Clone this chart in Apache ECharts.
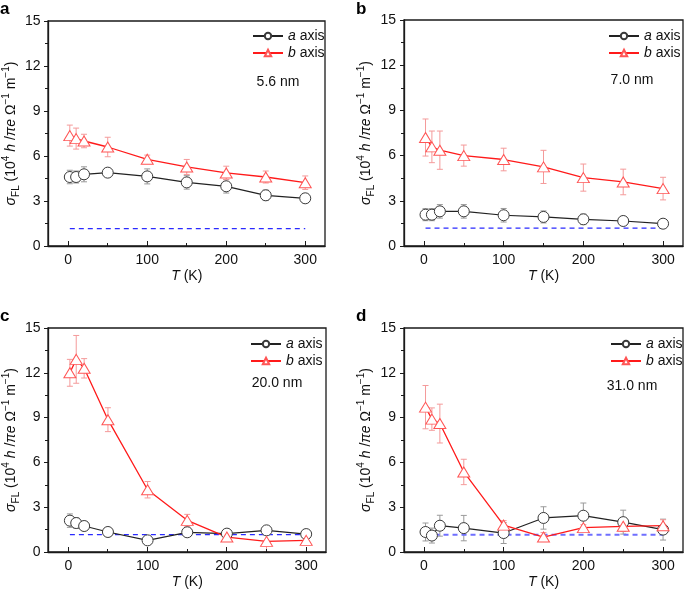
<!DOCTYPE html>
<html><head><meta charset="utf-8">
<script src="https://cdn.jsdelivr.net/npm/echarts@6/dist/echarts.min.js"></script>
<style>html,body{margin:0;padding:0;background:#fff}
#wrap{position:relative;width:685px;height:594px}
.layer{position:absolute;left:0;top:0;width:685px;height:594px}
.ov{pointer-events:none}</style>
</head><body><div id="wrap">
<div id="c" class="layer"></div>
<div id="f0" class="layer ov"></div><div id="f1" class="layer ov"></div>
<div id="f2" class="layer ov"></div><div id="f3" class="layer ov"></div>
</div>
<script>
// ---- data ----
const temps = [2, 10, 20, 50, 100, 150, 200, 250, 300];
const xTickLabels = [0, 100, 200, 300];
const xMinorTicks = [50, 150, 250];
const xRange = [-25, 325];
const yRange = [0, 15];
const panelLetters = ['a', 'b', 'c', 'd'];
const thickLabels = ['5.6 nm', '7.0 nm', '20.0 nm', '31.0 nm'];
const seriesNames = ['a axis', 'b axis'];

const a56 = [4.6, 4.6, 4.78, 4.89, 4.64, 4.24, 3.98, 3.38, 3.18];
const a56err = [0.45, 0.4, 0.5, 0.25, 0.5, 0.45, 0.45, 0.35, 0.3];
const b56 = [7.36, 7.16, 7.0, 6.6, 5.78, 5.27, 4.87, 4.6, 4.22];
const b56err = [0.7, 0.7, 0.45, 0.65, 0.28, 0.5, 0.45, 0.4, 0.45];

const a70 = [2.08, 2.08, 2.3, 2.3, 2.04, 1.93, 1.77, 1.66, 1.48];
const a70err = [0.4, 0.4, 0.45, 0.45, 0.45, 0.4, 0.35, 0.3, 0.2];
const b70 = [7.2, 6.58, 6.36, 6.0, 5.74, 5.25, 4.54, 4.25, 3.81];
const b70err = [1.23, 1.05, 1.27, 0.7, 0.75, 1.1, 0.9, 0.85, 0.75];

const a200 = [2.1, 1.94, 1.74, 1.34, 0.78, 1.32, 1.23, 1.45, 1.2];
const a200err = [0.45, 0.35, 0.3, 0.15, 0.15, 0.2, 0.15, 0.2, 0.15];
const b200 = [12.0, 12.9, 12.3, 8.86, 4.17, 2.12, 1.0, 0.71, 0.78];
const b200err = [0.9, 1.6, 0.65, 0.8, 0.55, 0.4, 0.15, 0.7, 0.2];

const a310 = [1.34, 1.1, 1.76, 1.6, 1.27, 2.28, 2.43, 2.0, 1.5];
const a310err = [0.6, 0.5, 0.7, 0.85, 0.7, 0.75, 0.85, 0.8, 0.7];
const b310 = [9.7, 8.9, 8.6, 5.36, 1.8, 1.0, 1.63, 1.72, 1.76];
const b310err = [1.45, 0.75, 1.3, 0.85, 0.3, 0.3, 0.2, 0.35, 0.4];

const dashedLevel = [1.16, 1.18, 1.16, 1.16];
const dashedRange = [2, 300];

// ---- layout/style ----
const FF = '"Liberation Sans", Arial, Helvetica, sans-serif';
const grids = [
  {left: 48, top: 21, width: 277, height: 225},
  {left: 404, top: 20, width: 279, height: 226},
  {left: 48, top: 328, width: 278, height: 224},
  {left: 404, top: 328, width: 279, height: 224}
];
const legendPos = [[247, 24], [603, 24], [245, 332], [605, 332]];
const thickPos = [[278, 82], [632, 80], [277, 383], [632, 386]];
const letterPos = [[0, 1], [356, 1], [0, 308], [356, 308]];
const dashStyle = [
  {color: '#2a2aff', width: 1.2}, {color: '#2a2aff', width: 1.2},
  {color: '#2a2aff', width: 1.2}, {color: '#6f6fff', width: 2}
];
const panels = [
  [a56, a56err, b56, b56err], [a70, a70err, b70, b70err],
  [a200, a200err, b200, b200err], [a310, a310err, b310, b310err]
];
const axisColor = '#1a1a1a';
const txt = '#111';

function errRender(params, api) {
  const x = api.value(0), lo = api.value(1), hi = api.value(2);
  const p1 = api.coord([x, hi]), p2 = api.coord([x, lo]);
  const w = 3;
  const st = {stroke: api.visual('color'), lineWidth: 1};
  return {type: 'group', children: [
    {type: 'line', shape: {x1: p1[0], y1: p1[1], x2: p2[0], y2: p2[1]}, style: st},
    {type: 'line', shape: {x1: p1[0] - w, y1: p1[1], x2: p1[0] + w, y2: p1[1]}, style: st},
    {type: 'line', shape: {x1: p2[0] - w, y1: p2[1], x2: p2[0] + w, y2: p2[1]}, style: st}
  ]};
}
function errData(v, e) { return temps.map((t, i) => [t, v[i] - e[i], v[i] + e[i]]); }
function ptData(v) { return temps.map((t, i) => [t, v[i]]); }

// ---- main chart: data, labels, names, legends ----
const xAxes = [], yAxes = [], series = [], legends = [], graphics = [];
const richName = {
  i: {fontStyle: 'italic', fontSize: 14, fontFamily: FF, color: txt, lineHeight: 20},
  n: {fontSize: 14, fontFamily: FF, color: txt, lineHeight: 20},
  sub: {fontSize: 10, fontFamily: FF, color: txt, verticalAlign: 'bottom', lineHeight: 10},
  sup: {fontSize: 10, fontFamily: FF, color: txt, verticalAlign: 'top', lineHeight: 10}
};
grids.forEach((g, k) => {
  xAxes.push({
    type: 'value', gridIndex: k, min: xRange[0], max: xRange[1], position: 'bottom',
    axisLine: {show: false, onZero: false}, axisTick: {show: false},
    axisLabel: {customValues: xTickLabels, fontSize: 14, fontFamily: FF, color: txt, margin: 7},
    splitLine: {show: false},
    name: '{i|T} (K)', nameLocation: 'middle', nameGap: 23,
    nameTextStyle: {fontSize: 14, fontFamily: FF, color: txt, rich: {i: {fontStyle: 'italic', fontSize: 14, fontFamily: FF, color: txt}}}
  });
  yAxes.push({
    type: 'value', gridIndex: k, min: yRange[0], max: yRange[1], interval: 3,
    axisLine: {show: false, onZero: false}, axisTick: {show: false},
    axisLabel: {fontSize: 14, fontFamily: FF, color: txt, margin: 8},
    splitLine: {show: false},
    name: '{i|σ}{sub|FL}{n| (10}{sup|4}{n| }{i|h}{n| /}{i|πe}{n| Ω}{sup|−1}{n| m}{sup|−1}{n|)}',
    nameLocation: 'middle', nameRotate: 90, nameGap: 27,
    nameTextStyle: {fontSize: 14, fontFamily: FF, color: txt, rich: richName}
  });
  const [av, ae, bv, be] = panels[k];
  series.push(
    {type: 'custom', name: 'aerr' + k, xAxisIndex: k, yAxisIndex: k, renderItem: errRender,
     itemStyle: {color: '#9a9a9a'}, encode: {x: 0, y: [1, 2]}, data: errData(av, ae), z: 1, silent: true},
    {type: 'custom', name: 'berr' + k, xAxisIndex: k, yAxisIndex: k, renderItem: errRender,
     itemStyle: {color: '#f49a9a'}, encode: {x: 0, y: [1, 2]}, data: errData(bv, be), z: 1, silent: true},
    {type: 'line', name: 'dash' + k, xAxisIndex: k, yAxisIndex: k, symbol: 'none',
     data: [[dashedRange[0], dashedLevel[k]], [dashedRange[1], dashedLevel[k]]],
     lineStyle: {color: dashStyle[k].color, width: dashStyle[k].width, type: [5, 4]}, z: 1, silent: true},
    {type: 'line', name: seriesNames[0], xAxisIndex: k, yAxisIndex: k, symbol: 'circle', symbolSize: 11,
     data: ptData(av), lineStyle: {color: '#222', width: 1.2},
     itemStyle: {color: '#fff', borderColor: '#3a3a3a', borderWidth: 1}, z: 3},
    {type: 'line', name: seriesNames[1], xAxisIndex: k, yAxisIndex: k, symbol: 'triangle', symbolSize: [12, 10],
     data: ptData(bv), lineStyle: {color: '#ff1a1a', width: 1.3},
     itemStyle: {color: '#fff', borderColor: '#ff5555', borderWidth: 1}, z: 3}
  );
  legends.push({
    left: legendPos[k][0], top: legendPos[k][1], orient: 'vertical', align: 'left',
    data: seriesNames, itemWidth: 30, itemHeight: 8, itemGap: 3, selectedMode: false,
    formatter: n => n === 'a axis' ? '{i|a} axis' : '{i|b} axis',
    textStyle: {fontSize: 14, fontFamily: FF, color: txt, padding: [0, 0, 0, 0],
      rich: {i: {fontStyle: 'italic', fontSize: 14, fontFamily: FF, color: txt}}}
  });
  graphics.push(
    {type: 'text', x: thickPos[k][0], y: thickPos[k][1],
     style: {text: thickLabels[k], fontSize: 14, fontFamily: FF, fill: txt, align: 'center', verticalAlign: 'middle'}},
    {type: 'text', x: letterPos[k][0], y: letterPos[k][1],
     style: {text: panelLetters[k], fontSize: 17, fontWeight: 'bold', fontFamily: FF, fill: '#000', align: 'left', verticalAlign: 'top'}}
  );
});

const chart = echarts.init(document.getElementById('c'), null, {renderer: 'canvas'});
chart.setOption({
  animation: false,
  backgroundColor: '#fff',
  grid: grids.map(g => Object.assign({}, g)),
  xAxis: xAxes, yAxis: yAxes, series: series, legend: legends, graphic: graphics
});

// ---- frame layers: one simple single-grid chart per panel (axis lines, ticks, box) ----
grids.forEach((g, k) => {
  const fc = echarts.init(document.getElementById('f' + k), null, {renderer: 'canvas'});
  fc.setOption({
    animation: false,
    grid: [Object.assign({show: true, borderColor: axisColor, borderWidth: 1.3}, g)],
    xAxis: [
      {type: 'value', min: xRange[0], max: xRange[1], position: 'bottom',
       axisLine: {show: true, onZero: false, lineStyle: {color: axisColor, width: 1.3}},
       axisTick: {show: true, inside: true, length: 5, customValues: xTickLabels, lineStyle: {color: axisColor}},
       axisLabel: {show: false}, splitLine: {show: false}},
      {type: 'value', min: xRange[0], max: xRange[1], position: 'bottom',
       axisLine: {show: false}, axisLabel: {show: false}, splitLine: {show: false},
       axisTick: {show: true, inside: true, length: 3, customValues: xMinorTicks, lineStyle: {color: axisColor}}}
    ],
    yAxis: [{type: 'value', min: yRange[0], max: yRange[1], interval: 3,
      axisLine: {show: true, onZero: false, lineStyle: {color: axisColor, width: 1.3}},
      axisTick: {show: true, inside: false, length: 4, lineStyle: {color: axisColor}},
      minorTick: {show: true, splitNumber: 2, length: 3, lineStyle: {color: axisColor}},
      axisLabel: {show: false}, splitLine: {show: false}}],
    series: [{type: 'line', data: [], silent: true}]
  });
});
</script></body></html>
